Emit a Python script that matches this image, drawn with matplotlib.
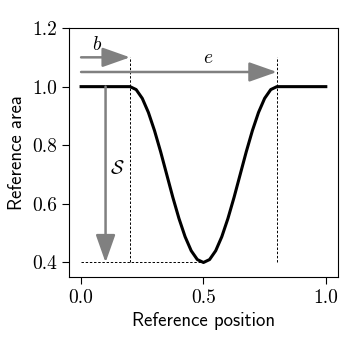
import matplotlib
matplotlib.use("Agg")
import matplotlib.pyplot as plt

# reference shape: flat at 1, smooth dip between b and e
position = [0.0, 0.2, 0.225, 0.25, 0.275, 0.3, 0.325, 0.35, 0.375, 0.4, 0.425,
            0.45, 0.475, 0.5, 0.525, 0.55, 0.575, 0.6, 0.625, 0.65, 0.675, 0.7,
            0.725, 0.75, 0.775, 0.8, 1.0]
area = [1.0, 1.0, 0.990, 0.960, 0.912, 0.850, 0.778, 0.700, 0.622, 0.550, 0.488,
        0.440, 0.410, 0.400, 0.410, 0.440, 0.488, 0.550, 0.622, 0.700, 0.778,
        0.850, 0.912, 0.960, 0.990, 1.0, 1.0]

b_pos = 0.2
e_pos = 0.8
s_min = 0.4
xticks = [0.0, 0.5, 1.0]
yticks = [0.4, 0.6, 0.8, 1.0, 1.2]

plt.rcParams['font.family'] = 'cmr10'
plt.rcParams['mathtext.fontset'] = 'cm'
plt.rcParams['axes.unicode_minus'] = False

fig = plt.figure(figsize=(3.46, 3.46), dpi=100)
ax = fig.add_axes([0.199, 0.199, 0.778, 0.72])

ax.plot(position, area, color='black', lw=2.2, solid_joinstyle='round')

# guide lines
dash = dict(color='black', ls='--', lw=0.7, dashes=(2.5, 1.8))
ax.plot([b_pos, b_pos], [s_min, 1.1], **dash)
ax.plot([e_pos, e_pos], [s_min, 1.1], **dash)
ax.plot([0.0, 0.5], [s_min, s_min], **dash)

arrow = dict(arrowstyle='-|>,head_length=1.7,head_width=0.6', color='gray',
             lw=1.8, shrinkA=0, shrinkB=0, mutation_scale=10)
ax.annotate('', xy=(b_pos, 1.1), xytext=(0.0, 1.1), arrowprops=arrow)
ax.annotate('', xy=(e_pos, 1.05), xytext=(0.0, 1.05), arrowprops=arrow)
ax.annotate('', xy=(0.1, s_min), xytext=(0.1, 1.0), arrowprops=arrow)

ax.text(0.065, 1.142, r'$b$', ha='center', va='center', fontsize=14)
ax.text(0.52, 1.098, r'$e$', ha='center', va='center', fontsize=14)
ax.text(0.147, 0.72, r'$\mathcal{S}$', ha='center', va='center', fontsize=14)

ax.set_xlim(-0.05, 1.05)
ax.set_ylim(0.35, 1.2)
ax.set_xticks(xticks)
ax.set_yticks(yticks)
ax.set_xticklabels([f'{v:.1f}' for v in xticks])
ax.set_yticklabels([f'{v:.1f}' for v in yticks])
ax.tick_params(labelsize=14, length=5)
ax.set_xlabel('Reference position', fontfamily='cmss10', fontsize=13.5)
ax.set_ylabel('Reference area', fontfamily='cmss10', fontsize=13.5)

fig.savefig('out.png', dpi=100)
